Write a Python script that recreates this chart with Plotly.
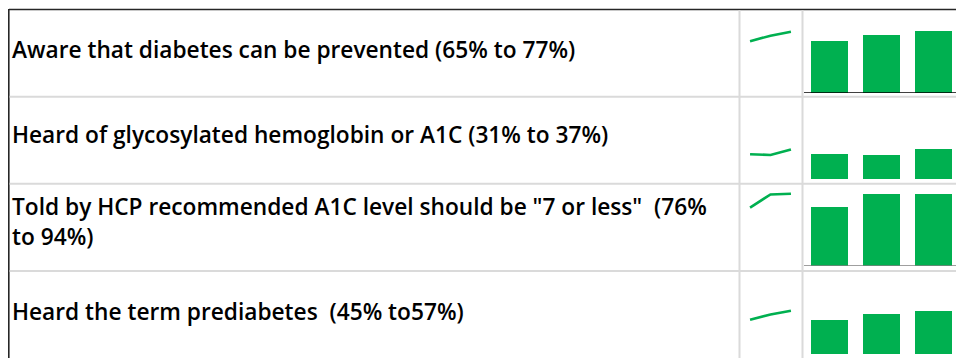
import plotly.graph_objects as go

W, H = 956, 358

labels = [
    "Aware that diabetes can be prevented (65% to 77%)",
    "Heard of glycosylated hemoglobin or A1C (31% to 37%)",
    "Told by HCP recommended A1C level should be \"7 or less\"  (76%<br>to 94%)",
    "Heard the term prediabetes  (45% to57%)",
]
periods = ["Period 1", "Period 2", "Period 3"]
aware_prevent = [65, 72, 77]
heard_a1c = [31, 30, 37]
told_a1c_7 = [76, 93, 94]
heard_prediabetes = [45, 52, 57]
series = [aware_prevent, heard_a1c, told_a1c_7, heard_prediabetes]

GREEN = "#00B050"

def px(x):
    return x / W

def py(y):
    return 1 - y / H

# per-row layout (pixel baseline, px per percent, text centre)
row_base = [93, 179, 266, 354]
row_scale = [0.796, 0.80, 0.769, 0.76]
text_y = [49.5, 134.5, 221, 311.5]
baseline_color = ["#000000", None, "#7f7f7f", None]

fig = go.Figure()
xi = list(range(len(periods)))

for i, vals in enumerate(series):
    yname = "y" if i == 0 else f"y{i+1}"
    fig.add_trace(go.Bar(x=xi, y=vals, xaxis="x", yaxis=yname,
                         marker=dict(color=GREEN, line=dict(width=0)),
                         width=0.714, showlegend=False, hoverinfo="y"))
    fig.add_trace(go.Scatter(x=xi, y=vals, xaxis="x2", yaxis=yname,
                             mode="lines", line=dict(color=GREEN, width=2.6),
                             showlegend=False, hoverinfo="y"))

layout = dict(
    width=W, height=H,
    margin=dict(l=0, r=0, t=0, b=0),
    paper_bgcolor="white", plot_bgcolor="white",
    bargap=0,
    xaxis=dict(domain=[px(804), 1], range=[-0.5, 2.432], visible=False, fixedrange=True),
    xaxis2=dict(domain=[px(748), px(793)], range=[-0.1, 2.1], visible=False,
                anchor="y", fixedrange=True),
)
for i in range(4):
    key = "yaxis" if i == 0 else f"yaxis{i+1}"
    top = row_base[i] - 100 * row_scale[i]
    layout[key] = dict(domain=[py(row_base[i]), py(top)], range=[0, 100],
                       visible=False, anchor="x", fixedrange=True)
fig.update_layout(**layout)

shapes = []
# outer border
shapes.append(dict(type="line", xref="paper", yref="paper", x0=px(9), x1=1,
                   y0=py(9.5), y1=py(9.5), line=dict(color="#262626", width=1.6)))
shapes.append(dict(type="line", xref="paper", yref="paper", x0=px(8.8), x1=px(8.8),
                   y0=py(9), y1=0, line=dict(color="#262626", width=1.6)))
# row separators
for yy in [96.8, 183.8, 271]:
    shapes.append(dict(type="line", xref="paper", yref="paper", x0=px(9.6), x1=1,
                       y0=py(yy), y1=py(yy), line=dict(color="#dadada", width=2)))
# column separators
for xx in [739.5, 802.5]:
    shapes.append(dict(type="line", xref="paper", yref="paper", x0=px(xx), x1=px(xx),
                       y0=py(10.3), y1=0, line=dict(color="#dadada", width=2)))
# bar baselines
for i in range(4):
    if baseline_color[i]:
        yref = "y" if i == 0 else f"y{i+1}"
        shapes.append(dict(type="line", xref="x domain", yref=yref, x0=0, x1=1,
                           y0=0, y1=0, line=dict(color=baseline_color[i], width=1.5)))
fig.update_layout(shapes=shapes)

for i, lab in enumerate(labels):
    fig.add_annotation(xref="paper", yref="paper", x=px(10), y=py(text_y[i]),
                       xanchor="left", yanchor="middle", align="left",
                       text=lab, showarrow=False,
                       font=dict(family="Open Sans", size=22.7, color="#000000", weight=600))

fig.write_html("out.html", config={"displayModeBar": False})
